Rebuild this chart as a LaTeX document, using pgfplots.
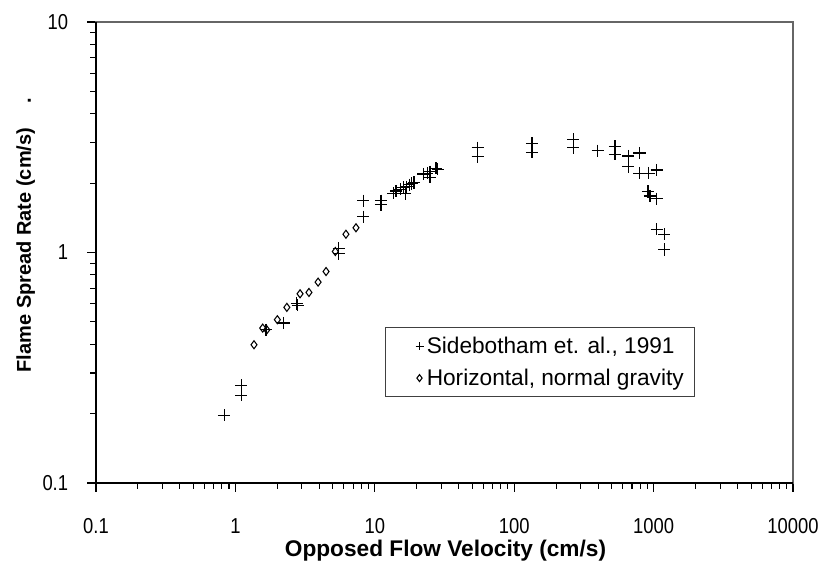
\documentclass[border=0pt]{standalone}
\usepackage{fontspec}
\setmainfont{Liberation Sans}
\usepackage{graphicx}
\usepackage{pgfplots}
\pgfplotsset{compat=1.18}
\usepackage{pgfplotstable}
\newcommand{\tlab}[1]{\scalebox{1.38}[1.62]{#1}}

\pgfplotstableread{
x y
0.83 0.197
1.10 0.265
1.10 0.240
1.66 0.462
2.21 0.494
2.75 0.600
2.80 0.590
5.51 1.04
5.51 0.987
8.27 1.43
8.27 1.675
11.07 1.675
11.07 1.61
13.6 1.81
14.2 1.85
15.2 1.88
16.5 1.80
16.0 1.92
16.9 1.93
17.7 1.97
18.4 1.99
19.1 2.01
22.3 2.19
23.8 2.21
24.9 2.24
24.9 2.12
27.5 2.32
28.3 2.30
54.7 2.85
54.7 2.61
134 2.98
134 2.72
265 3.10
265 2.85
397 2.76
528 2.88
528 2.67
659 2.62
659 2.36
791 2.70
791 2.21
923 2.21
1052 2.28
912 1.84
942 1.76
1052 1.71
1052 1.26
1194 1.20
1194 1.03
}\sidebotham

\pgfplotstableread{
x y
1.36 0.398
1.57 0.470
1.68 0.462
2.00 0.511
2.34 0.578
2.91 0.662
3.37 0.671
3.92 0.744
4.47 0.827
5.21 1.01
6.21 1.20
7.33 1.28
}\horizontal

\begin{document}
\begin{tikzpicture}
\path[use as bounding box] (-72pt,-65.25pt) rectangle (547.5pt,362.25pt);
\begin{axis}[
  at={(0pt,0pt)}, anchor=south west,
  scale only axis,
  width=522.75pt, height=345.75pt,
  xmode=log, ymode=log,
  xmin=0.1, xmax=10000, ymin=0.1, ymax=10,
  xtick={0.1,1,10,100,1000,10000},
  xticklabels={\tlab{0.1},\tlab{1},\tlab{10},\tlab{100},\tlab{1000},\tlab{10000}},
  ytick={0.1,1,10},
  yticklabels={\tlab{0.1},\tlab{1},\tlab{10}},
  tick pos=left,
  tick align=outside,
  major tick length=6.5pt,
  minor tick length=4.5pt,
  tick style={black, line width=0.8pt},
  axis line style={black!60, line width=0.9pt},
  /pgf/number format/assume math mode=true,
  xticklabel style={anchor=base, yshift=-31.5pt},
  yticklabel style={anchor=east, xshift=-10.9pt},
  xlabel={Opposed Flow Velocity (cm/s)},
  ylabel={Flame Spread Rate (cm/s)\rlap{\hspace{18pt}.}},
  xlabel style={font=\bfseries\fontsize{17}{20}\selectfont, at={(axis description cs:0.5014,-0.1605)}, anchor=base},
  ylabel style={font=\bfseries\fontsize{15}{18}\selectfont, at={(axis description cs:-0.101,0.5054)}, anchor=center},
  legend style={at={(rel axis cs:0.4146,0.338)}, anchor=north west,
    draw=black!75, line width=0.9pt, fill=white,
    font=\fontsize{17}{20}\selectfont,
    inner xsep=6pt, inner ysep=5pt, row sep=6pt,
    nodes={inner xsep=2pt}},
  legend cell align=left,
  clip=false,
]
\addplot[only marks, mark=+, mark size=4.6pt, black, mark options={line width=0.9pt},
  legend image code/.code={\path (-19pt,0pt); \draw[black, line width=0.8pt] plot[mark=+, mark size=3pt] coordinates {(0pt,0pt)};}] table[x=x,y=y] {\sidebotham};
\addlegendentry{Sidebotham et. al., 1991}
\addplot[only marks, mark=diamond, mark size=3pt, black, mark options={line width=0.8pt, fill=white},
  legend image code/.code={\path (-19pt,0pt) (3pt,0pt); \draw[black, line width=0.8pt] plot[mark=diamond, mark size=2.6pt] coordinates {(0pt,0pt)};}] table[x=x,y=y] {\horizontal};
\addlegendentry{Horizontal, normal gravity\hspace{36pt}}
\draw[black, line width=0.9pt] (rel axis cs:0,1) -- (rel axis cs:0,0) -- (rel axis cs:1,0);
\end{axis}
\end{tikzpicture}
\end{document}
